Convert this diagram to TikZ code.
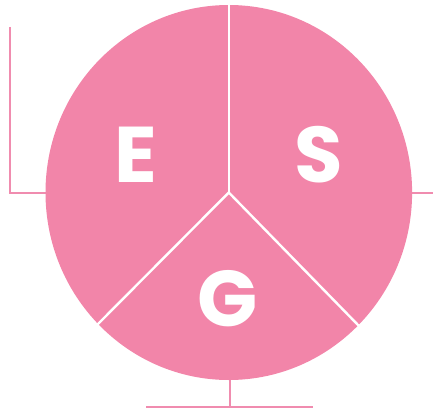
\documentclass[tikz,border=0pt]{standalone}
\usepackage{fontspec}
\setmainfont{Poppins}[UprightFont=* Bold]
\definecolor{esgpink}{HTML}{F285A9}
\definecolor{esgline}{HTML}{F08CAF}
\begin{document}
\begin{tikzpicture}[x=1pt,y=-1pt,
  bracket/.style={draw=esgline,line width=2.2pt},
  divider/.style={draw=white,line width=2.4pt},
  letter/.style={text=white,inner sep=0pt,font=\fontsize{79}{79}\selectfont}]
\useasboundingbox (0,0) rectangle (433,412);
\coordinate (c) at (228.8,192.5);
% bracket lines
\draw[bracket] (10,27) -- (10,193) -- (50,193);
\draw[bracket] (408,193) -- (433,193);
\draw[bracket] (230,376) -- (230,407);
\draw[bracket] (146,407) -- (313,407);
% disc
\fill[esgpink] (c) ellipse [x radius=183.3, y radius=187.5];
% dividers
\coordinate (top) at (228.8,3);
\coordinate (ll) at (96,326);
\coordinate (lr) at (359,326);
\draw[divider] (c) -- (top);
\draw[divider] (c) -- (ll);
\draw[divider] (c) -- (lr);
% letters
\node[letter] (E) at (135.5,154.5) {E};
\node[letter] (S) at (318.5,154.5) {S};
\node[letter] (G) at (227.5,299) {G};
\end{tikzpicture}
\end{document}
